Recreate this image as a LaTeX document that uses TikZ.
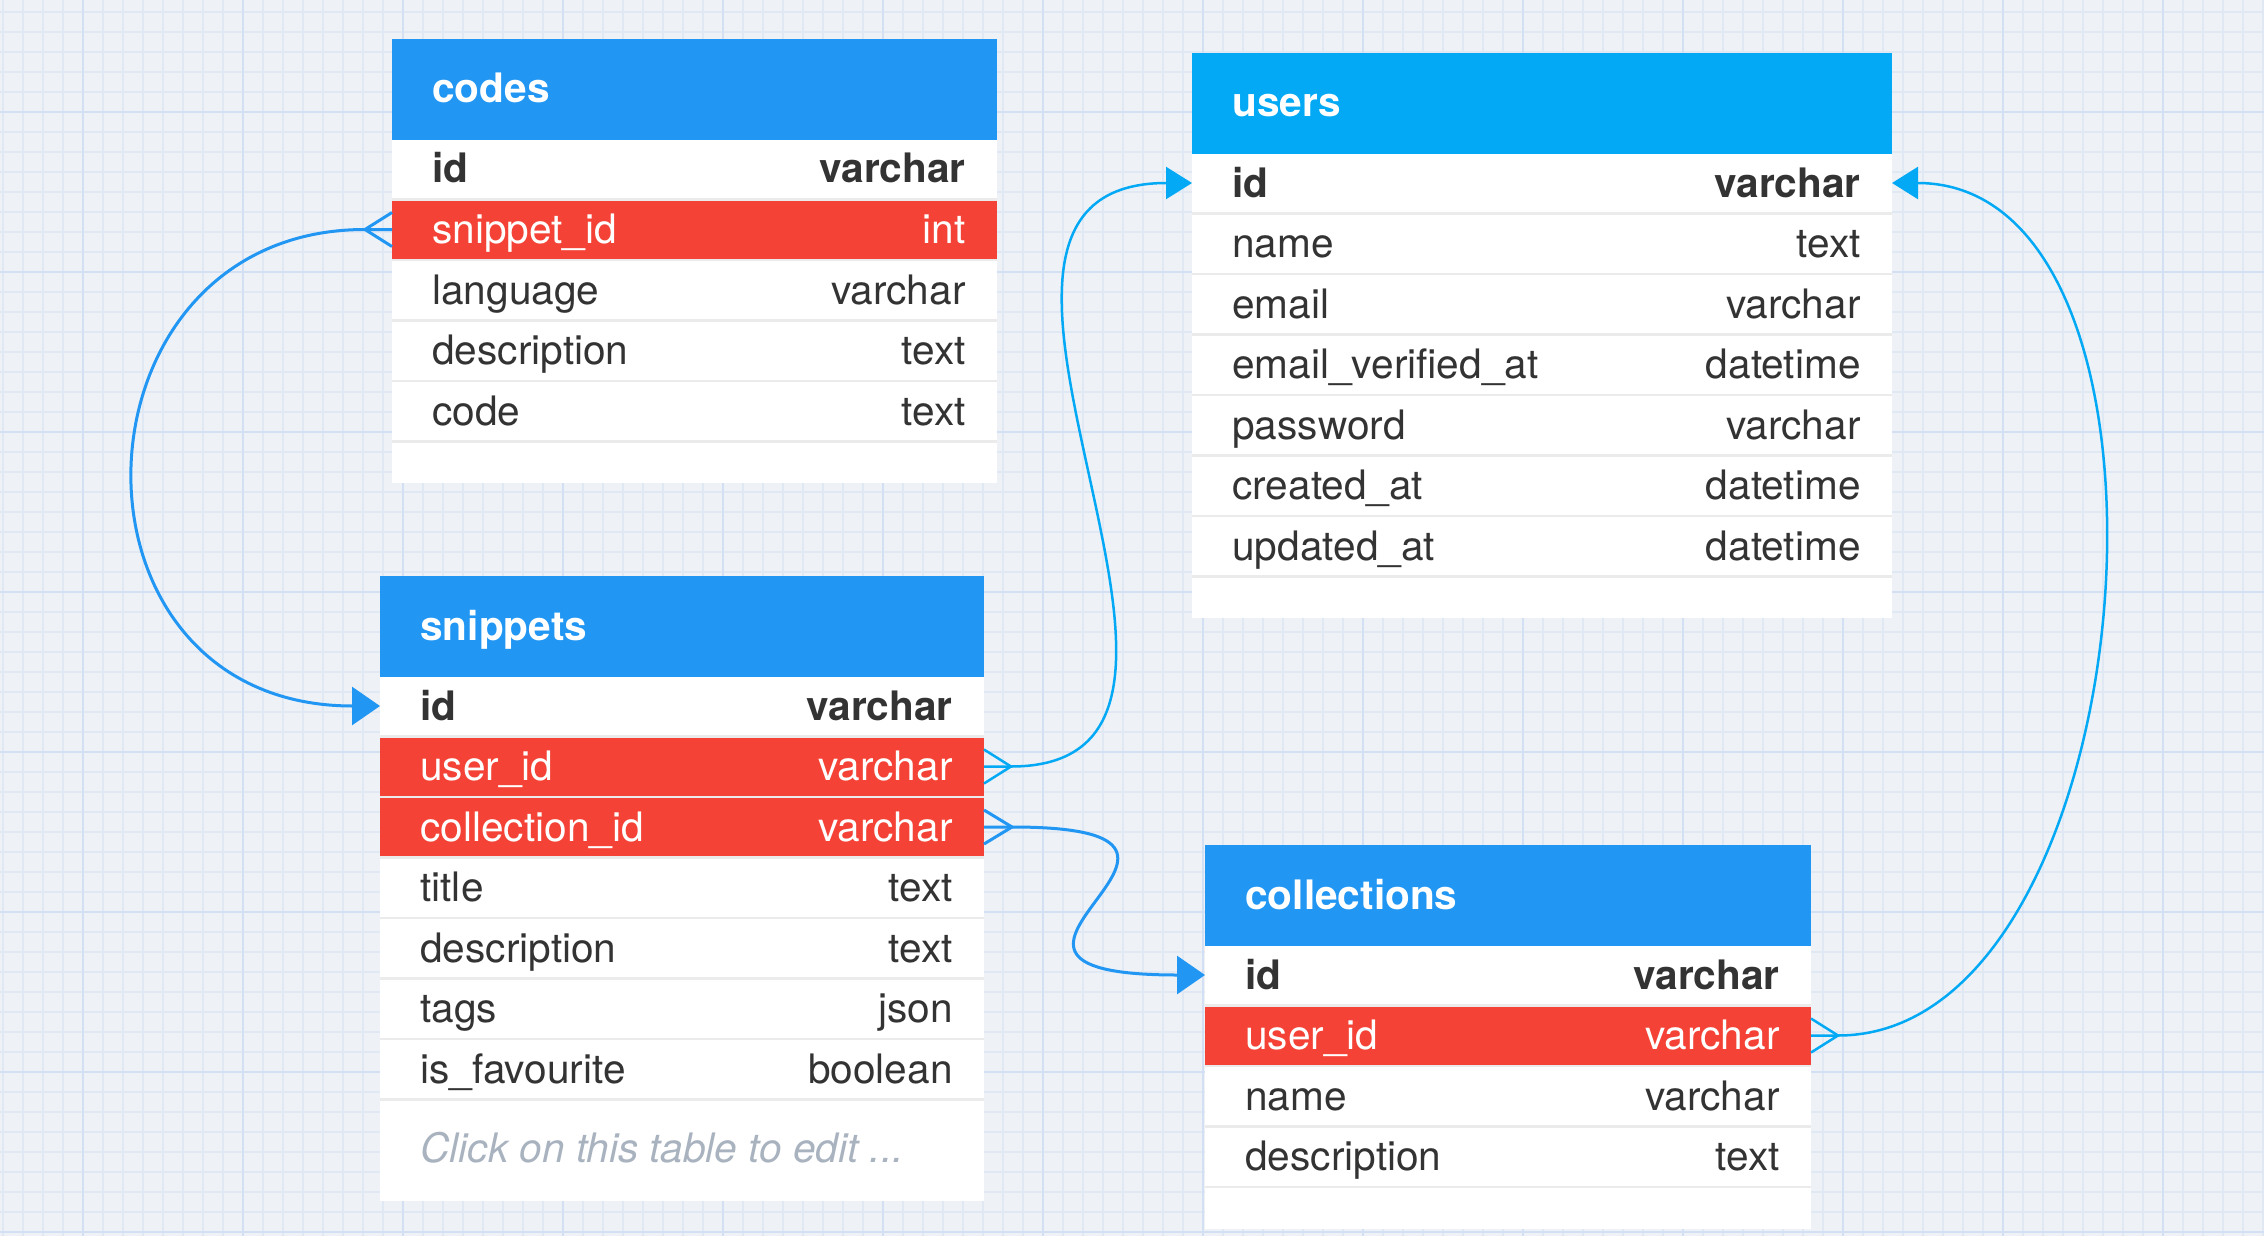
\documentclass[tikz,border=0pt]{standalone}
\usepackage{fontspec}
\setmainfont{TeX Gyre Heros}
\usetikzlibrary{arrows.meta}
\definecolor{bgcol}{HTML}{EEF2F6}
\definecolor{gridminor}{HTML}{E0E8F4}
\definecolor{gridmajor}{HTML}{D3DFF2}
\definecolor{hblue}{HTML}{2196F3}
\definecolor{hcyan}{HTML}{03A9F4}
\definecolor{fkred}{HTML}{F44336}
\definecolor{sepgray}{HTML}{EBEBEB}
\definecolor{txt}{HTML}{333333}
\definecolor{hint}{HTML}{A9B3BF}
\newcommand\erdhead[6]{%
  \node[headbox, fill=#5, minimum width=#4*0.5pt] (#1) at (#2,#3) {};
  \node[headtext] (#1-title) at (#2+40,#3+64) {#6};
}
\newcommand\erdrow[8]{%
  \node[#5, minimum width=#4*0.5pt] (#1) at (#2,#3) {};
  \node[#6, anchor=base west] (#1-f) at (#2+40,#3+43) {#7};
  \node[#6, anchor=base east] (#1-t) at (#2+#4-31,#3+43) {#8};
}
\begin{document}
\begin{tikzpicture}[x=0.5pt,y=-0.5pt,
  rowbox/.style={rectangle, anchor=north west, minimum height=29pt, inner sep=0pt, outer sep=0pt, fill=white},
  fkbox/.style={rowbox, fill=fkred},
  headbox/.style={rectangle, anchor=north west, minimum height=50.5pt, inner sep=0pt, outer sep=0pt},
  plaintext/.style={font=\fontsize{20.3}{24}\selectfont, text=txt, inner sep=0pt},
  pktext/.style={font=\fontsize{20.3}{24}\selectfont\bfseries, text=txt, inner sep=0pt},
  fktext/.style={font=\fontsize{20.3}{24}\selectfont, text=white, inner sep=0pt},
  hinttext/.style={font=\fontsize{20.3}{24}\selectfont\itshape, text=hint, inner sep=0pt, anchor=base west},
  headtext/.style={font=\fontsize{20.3}{24}\selectfont\bfseries, text=white, inner sep=0pt, anchor=base west},
  bconn/.style={draw=hblue, line width=1.5pt, -{Triangle[length=14pt,width=19pt]}},
  cconn/.style={draw=hcyan, line width=1.25pt, -{Triangle[length=13pt,width=16pt]}},
  bfoot/.style={draw=hblue, line width=1.5pt},
  cfoot/.style={draw=hcyan, line width=1.25pt},
  minorline/.style={draw=gridminor, line width=0.6pt},
  majorline/.style={draw=gridmajor, line width=0.9pt}
]
\useasboundingbox (0,0) rectangle (2264,1236);
% background grid
\fill[bgcol] (0,0) rectangle (2264,1236);
\foreach \x in {3,23,...,2263} \draw[minorline] (\x,0) -- (\x,1236);
\foreach \y in {12,32,...,1232} \draw[minorline] (0,\y) -- (2264,\y);
\foreach \x in {83,243,...,2163} \draw[majorline] (\x,0) -- (\x,1236);
\foreach \y in {112,272,...,1232} \draw[majorline] (0,\y) -- (2264,\y);

% ---------- codes ----------
\erdhead{codes}{392}{39}{605}{hblue}{codes}
\fill[sepgray] (392,140) rectangle (997,442.5);
\erdrow{codes-id}{392}{140}{605}{rowbox}{pktext}{id}{varchar}
\erdrow{codes-snip}{392}{200.5}{605}{fkbox}{fktext}{snippet\_id}{int}
\erdrow{codes-lang}{392}{261}{605}{rowbox}{plaintext}{language}{varchar}
\erdrow{codes-desc}{392}{321.5}{605}{rowbox}{plaintext}{description}{text}
\erdrow{codes-code}{392}{382}{605}{rowbox}{plaintext}{code}{text}
\node[rowbox, minimum width=302.5pt, minimum height=20.25pt] (codes-end) at (392,442.5) {};

% ---------- users ----------
\erdhead{users}{1192}{53}{700}{hcyan}{users}
\fill[sepgray] (1192,154) rectangle (1892,577.5);
\erdrow{users-id}{1192}{154}{700}{rowbox}{pktext}{id}{varchar}
\erdrow{users-name}{1192}{214.5}{700}{rowbox}{plaintext}{name}{text}
\erdrow{users-email}{1192}{275}{700}{rowbox}{plaintext}{email}{varchar}
\erdrow{users-ev}{1192}{335.5}{700}{rowbox}{plaintext}{email\_verified\_at}{datetime}
\erdrow{users-pw}{1192}{396}{700}{rowbox}{plaintext}{password}{varchar}
\erdrow{users-ca}{1192}{456.5}{700}{rowbox}{plaintext}{created\_at}{datetime}
\erdrow{users-ua}{1192}{517}{700}{rowbox}{plaintext}{updated\_at}{datetime}
\node[rowbox, minimum width=350pt, minimum height=20.25pt] (users-end) at (1192,577.5) {};

% ---------- snippets ----------
\erdhead{snip}{380}{576}{604}{hblue}{snippets}
\fill[sepgray] (380,677) rectangle (984,1100.5);
\erdrow{snip-id}{380}{677}{604}{rowbox}{pktext}{id}{varchar}
\erdrow{snip-user}{380}{737.5}{604}{fkbox}{fktext}{user\_id}{varchar}
\erdrow{snip-coll}{380}{798}{604}{fkbox}{fktext}{collection\_id}{varchar}
\erdrow{snip-title}{380}{858.5}{604}{rowbox}{plaintext}{title}{text}
\erdrow{snip-desc}{380}{919}{604}{rowbox}{plaintext}{description}{text}
\erdrow{snip-tags}{380}{979.5}{604}{rowbox}{plaintext}{tags}{json}
\erdrow{snip-fav}{380}{1040}{604}{rowbox}{plaintext}{is\_favourite}{boolean}
\node[rowbox, minimum width=302pt, minimum height=50.25pt] (snip-end) at (380,1100.5) {};
\node[hinttext] (snip-hint) at (420,1162) {Click on this table to edit ...};

% ---------- collections ----------
\erdhead{coll}{1205}{845}{606}{hblue}{collections}
\fill[sepgray] (1205,946) rectangle (1811,1188);
\erdrow{coll-id}{1205}{946}{606}{rowbox}{pktext}{id}{varchar}
\erdrow{coll-user}{1205}{1006.5}{606}{fkbox}{fktext}{user\_id}{varchar}
\erdrow{coll-name}{1205}{1067}{606}{rowbox}{plaintext}{name}{varchar}
\erdrow{coll-desc}{1205}{1127.5}{606}{rowbox}{plaintext}{description}{text}
\node[rowbox, minimum width=303pt, minimum height=20.5pt] (coll-end) at (1205,1188) {};

% ---------- connectors ----------
% codes.snippet_id -> snippets.id
\draw[bconn] (codes-snip.west) -- ++(-27,0) coordinate (cf1)
  .. controls (62,229.5) and (48,706) .. (snip-id.west);
\draw[bfoot] ([yshift=8.5pt]codes-snip.west) -- (cf1) -- ([yshift=-8.5pt]codes-snip.west);
% snippets.user_id -> users.id
\draw[cconn] (snip-user.east) -- ++(27,0) coordinate (cf2)
  .. controls (1294,766.5) and (884,183) .. (users-id.west);
\draw[cfoot] ([yshift=8.5pt]snip-user.east) -- (cf2) -- ([yshift=-8.5pt]snip-user.east);
% snippets.collection_id -> collections.id
\draw[bconn] (snip-coll.east) -- ++(28,0) coordinate (cf3)
  .. controls (1288,827) and (904,975) .. (coll-id.west);
\draw[bfoot] ([yshift=8.5pt]snip-coll.east) -- (cf3) -- ([yshift=-8.5pt]snip-coll.east);
% collections.user_id -> users.id
\draw[cconn] (coll-user.east) -- ++(27,0) coordinate (cf4)
  .. controls (2148,1035.5) and (2211,183) .. (users-id.east);
\draw[cfoot] ([yshift=8.5pt]coll-user.east) -- (cf4) -- ([yshift=-8.5pt]coll-user.east);
\end{tikzpicture}
\end{document}
